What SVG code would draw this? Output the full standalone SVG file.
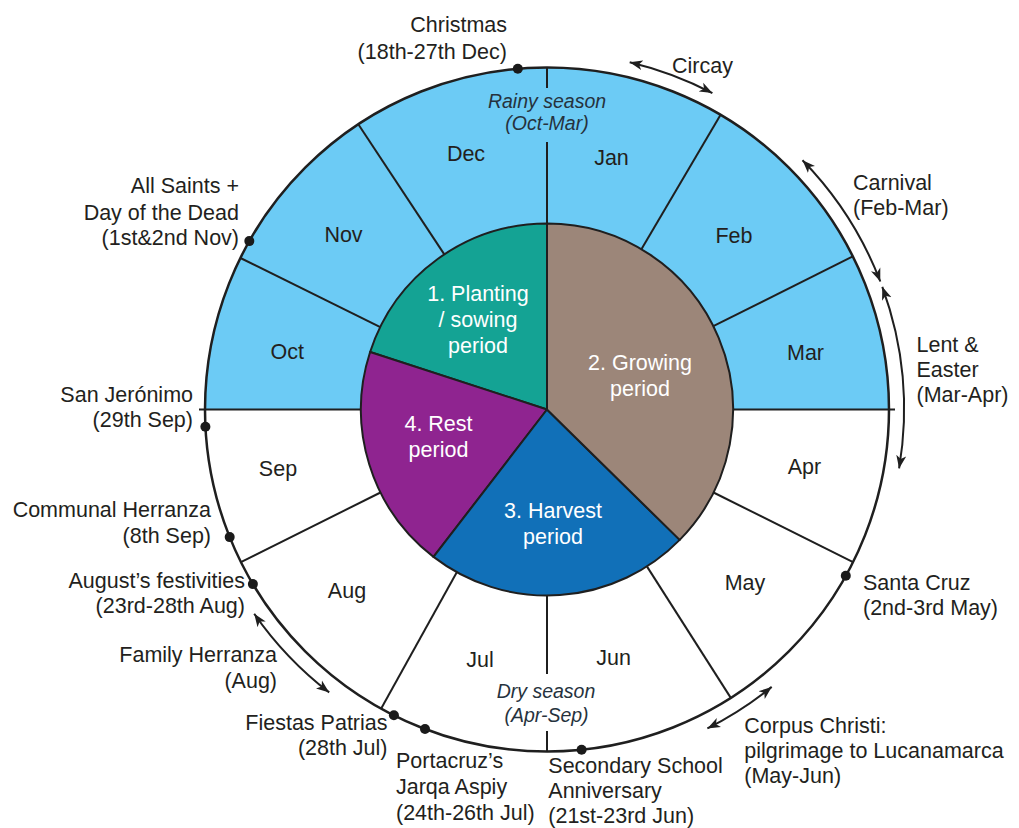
<svg xmlns="http://www.w3.org/2000/svg" width="1019" height="828" viewBox="0 0 1019 828">
<defs>
<style>
text{font-family:"Liberation Sans",Arial,Helvetica,sans-serif;font-size:21.5px;fill:#231f20}
.w{fill:#ffffff}
.it{font-style:italic;font-size:19.5px;fill:#26323d}
.m{text-anchor:middle}
.e{text-anchor:end}
.ln{stroke:#1f1f1f;stroke-width:2;fill:none}
.arr{stroke:#1f1f1f;stroke-width:2;fill:none;marker-start:url(#ah);marker-end:url(#ah)}
.dot{fill:#1a1a1a}
.pie{stroke:#1f1f1f;stroke-width:2;stroke-linejoin:round}
</style>
<marker id="ah" markerUnits="userSpaceOnUse" markerWidth="14" markerHeight="11" refX="13" refY="5" orient="auto-start-reverse" viewBox="0 0 14 10">
<path d="M0,0 L13,5 L0,10 L3.5,5 Z" fill="#1f1f1f"/>
</marker>
</defs>
<rect width="1019" height="828" fill="#ffffff"/>

<g id="rainy-half">
<path d="M205,409.5 A342,342 0 0 1 889,409.5 Z" fill="#6ccbf5"/>
</g>

<g id="month-dividers">
<line class="ln" x1="199" y1="409.5" x2="895" y2="409.5"/>
<line class="ln" x1="547" y1="67.5" x2="547" y2="88"/>
<line class="ln" x1="547" y1="142" x2="547" y2="223.5"/>
<line class="ln" x1="547" y1="595.5" x2="547" y2="674"/>
<line class="ln" x1="547" y1="731" x2="547" y2="751.5"/>
<line class="ln" x1="641.4" y1="249.2" x2="720.6" y2="114.8"/>
<line class="ln" x1="713.3" y1="326.2" x2="852.8" y2="256.4"/>
<line class="ln" x1="713.5" y1="492.5" x2="853.1" y2="562.1"/>
<line class="ln" x1="646.9" y1="566.4" x2="730.8" y2="697.9"/>
<line class="ln" x1="456.8" y1="572.2" x2="381.2" y2="708.6"/>
<line class="ln" x1="380.5" y1="492.5" x2="240.9" y2="562.1"/>
<line class="ln" x1="380.3" y1="327.1" x2="240.4" y2="258"/>
<line class="ln" x1="444.3" y1="254.4" x2="358.3" y2="124.3"/>
</g>

<g id="outer-ring">
<circle cx="547" cy="409.5" r="342" fill="none" stroke="#1f1f1f" stroke-width="2.5"/>
</g>

<g id="period-1-planting">
<path class="pie" d="M547,409.5 L547,223.5 A186,186 0 0 0 370.1,352 Z" fill="#14a394"/>
<text class="w m" x="478" y="301">1. Planting</text>
<text class="w m" x="478" y="327">/ sowing</text>
<text class="w m" x="478" y="353">period</text>
</g>
<g id="period-4-rest">
<path class="pie" d="M547,409.5 L370.1,352 A186,186 0 0 0 433.5,556.9 Z" fill="#8f2490"/>
<text class="w m" x="438.5" y="431">4. Rest</text>
<text class="w m" x="438.5" y="457">period</text>
</g>
<g id="period-3-harvest">
<path class="pie" d="M547,409.5 L433.5,556.9 A186,186 0 0 0 679.7,539.9 Z" fill="#1170b8"/>
<text class="w m" x="553" y="518">3. Harvest</text>
<text class="w m" x="553" y="544">period</text>
</g>
<g id="period-2-growing">
<path class="pie" d="M547,409.5 L679.7,539.9 A186,186 0 0 0 547,223.5 Z" fill="#9c8679"/>
<text class="w m" x="640" y="370">2. Growing</text>
<text class="w m" x="640" y="396">period</text>
</g>

<g id="months">
<text class="m" x="611.5" y="165">Jan</text>
<text class="m" x="734" y="243">Feb</text>
<text class="m" x="805.5" y="360">Mar</text>
<text class="m" x="804.5" y="474">Apr</text>
<text class="m" x="745" y="590">May</text>
<text class="m" x="613.7" y="665">Jun</text>
<text class="m" x="480" y="667">Jul</text>
<text class="m" x="347" y="598">Aug</text>
<text class="m" x="278" y="476">Sep</text>
<text class="m" x="287.3" y="359">Oct</text>
<text class="m" x="343.5" y="241.5">Nov</text>
<text class="m" x="466" y="161">Dec</text>
</g>

<g id="seasons">
<text class="it m" x="547" y="108">Rainy season</text>
<text class="it m" x="547" y="130">(Oct-Mar)</text>
<text class="it m" x="546" y="698">Dry season</text>
<text class="it m" x="546.5" y="722">(Apr-Sep)</text>
</g>

<g id="connectors">
<path class="arr" d="M629.7,62.2 A357,357 0 0 1 712.4,93.1"/>
<path class="arr" d="M802.5,160.2 A357,357 0 0 1 880.3,281.5"/>
<path class="arr" d="M882.3,286.8 A357,357 0 0 1 899.1,468.4"/>
<path class="arr" d="M771.7,686.9 A357,357 0 0 1 707.4,728.4"/>
<path class="arr" d="M329.2,692.4 A357,357 0 0 1 254.2,613.7"/>
</g>

<g id="ev-christmas">
<circle class="dot" cx="517.8" cy="68.8" r="5"/>
<text class="e" x="507" y="32">Christmas</text>
<text class="e" x="507" y="58.5">(18th-27th Dec)</text>
</g>
<g id="ev-circay">
<text x="672" y="73">Circay</text>
</g>
<g id="ev-carnival">
<text x="853" y="190">Carnival</text>
<text x="853" y="215">(Feb-Mar)</text>
</g>
<g id="ev-lent">
<text x="916.5" y="352">Lent &amp;</text>
<text x="916.5" y="377">Easter</text>
<text x="916.5" y="402">(Mar-Apr)</text>
</g>
<g id="ev-santa-cruz">
<circle class="dot" cx="845.8" cy="575.8" r="5"/>
<text x="863" y="590">Santa Cruz</text>
<text x="863" y="615">(2nd-3rd May)</text>
</g>
<g id="ev-corpus">
<text x="744.3" y="733">Corpus Christi:</text>
<text x="744.3" y="758">pilgrimage to Lucanamarca</text>
<text x="744.3" y="783">(May-Jun)</text>
</g>
<g id="ev-secondary-school">
<circle class="dot" cx="581.6" cy="749.8" r="5"/>
<text x="548.3" y="773">Secondary School</text>
<text x="548.3" y="798">Anniversary</text>
<text x="548.3" y="823">(21st-23rd Jun)</text>
</g>
<g id="ev-portacruz">
<circle class="dot" cx="425" cy="729" r="5"/>
<text x="396" y="768">Portacruz’s</text>
<text x="396" y="794">Jarqa Aspiy</text>
<text x="396" y="820">(24th-26th Jul)</text>
</g>
<g id="ev-fiestas-patrias">
<circle class="dot" cx="393.9" cy="715.3" r="5"/>
<text class="e" x="387.5" y="730">Fiestas Patrias</text>
<text class="e" x="387.5" y="755">(28th Jul)</text>
</g>
<g id="ev-family-herranza">
<text class="e" x="277" y="662">Family Herranza</text>
<text class="e" x="277" y="688">(Aug)</text>
</g>
<g id="ev-august-festivities">
<circle class="dot" cx="252.9" cy="584.1" r="5"/>
<text class="e" x="245" y="588">August’s festivities</text>
<text class="e" x="245" y="613">(23rd-28th Aug)</text>
</g>
<g id="ev-communal-herranza">
<circle class="dot" cx="229.7" cy="537.1" r="5"/>
<text class="e" x="211" y="517">Communal Herranza</text>
<text class="e" x="211" y="543">(8th Sep)</text>
</g>
<g id="ev-san-jeronimo">
<circle class="dot" cx="205.4" cy="426.8" r="5"/>
<text class="e" x="193" y="402">San Jerónimo</text>
<text class="e" x="193" y="427">(29th Sep)</text>
</g>
<g id="ev-all-saints">
<circle class="dot" cx="249.3" cy="241.1" r="5"/>
<text class="e" x="239" y="193">All Saints +</text>
<text class="e" x="239" y="220">Day of the Dead</text>
<text class="e" x="239" y="245">(1st&amp;2nd Nov)</text>
</g>
</svg>
